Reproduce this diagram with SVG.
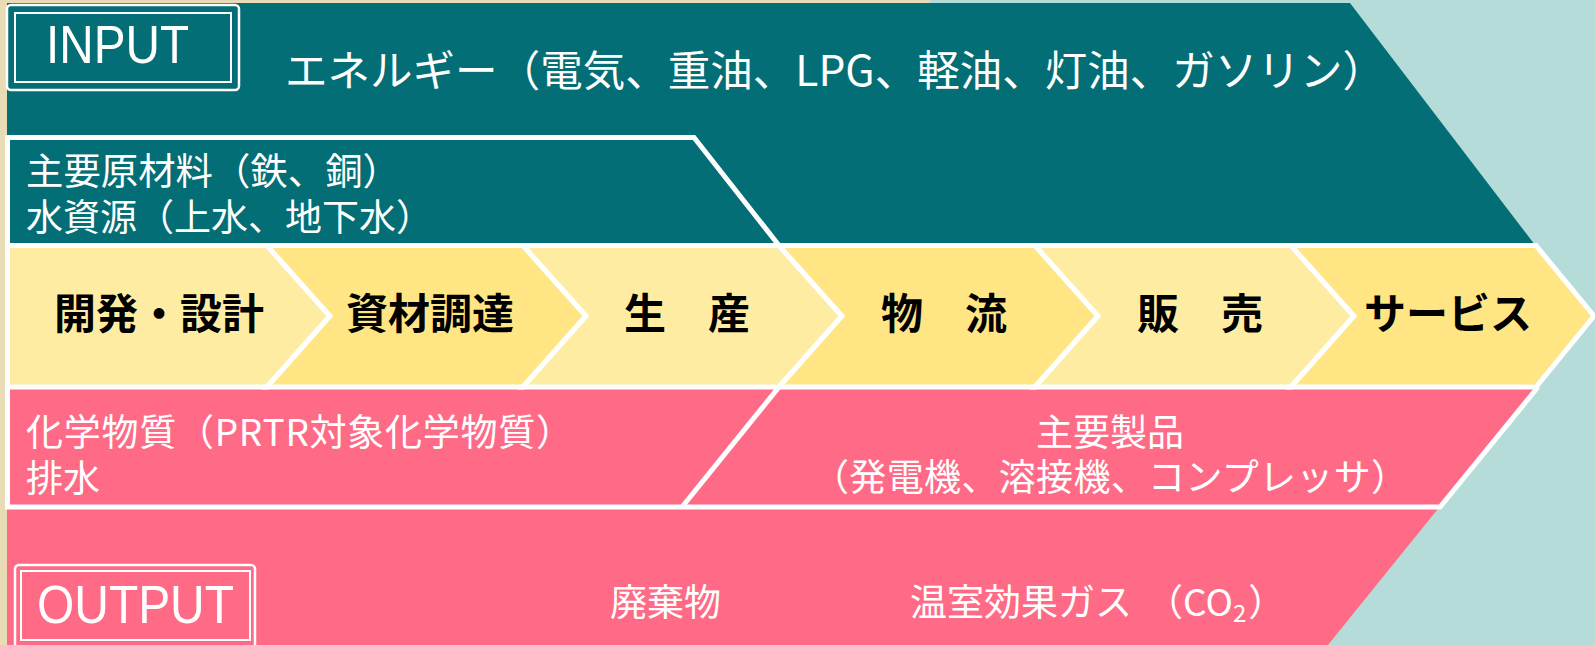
<svg xmlns="http://www.w3.org/2000/svg" width="1595" height="645" viewBox="0 0 1595 645">
<style>
.jp{font-family:"Noto Sans CJK JP","Noto Sans CJK SC",sans-serif;fill:#fff}
.lbl{font-family:"Noto Sans CJK JP","Noto Sans CJK SC",sans-serif;font-weight:700;font-size:42px;fill:#000;text-anchor:middle}
.edge{fill:none;stroke:#fff;stroke-width:5;stroke-linejoin:miter}
.chev{stroke:#fff;stroke-width:5;stroke-linejoin:miter}
.c1{fill:#FFECA3}
.c2{fill:#FFE584}
.box{fill:none;stroke:#fff}
.en{font-family:"Liberation Sans",Arial,sans-serif;font-size:53px;fill:#fff}
</style>
<g id="background">
<rect width="1595" height="645" fill="#E8DCB6"/>
<rect x="930" width="665" height="645" fill="#B5DCD8"/>
</g>
<g id="input">
<polygon points="7,3 1350,3 1535,245 7,245" fill="#036E75"/>
<rect x="7" y="5" width="232" height="85" rx="4" class="box" stroke-width="2.5"/>
<rect x="15" y="13" width="216" height="69" class="box" stroke-width="2"/>
<text x="46" y="63" class="en" textLength="143" lengthAdjust="spacingAndGlyphs">INPUT</text>
<text x="285" y="86" class="jp" font-size="42.5" textLength="1100" lengthAdjust="spacing">エネルギー（電気、重油、LPG、軽油、灯油、ガソリン）</text>
</g>
<g id="raw-materials">
<path class="edge" d="M7.5,245.5 V137.5 H694 L779,245.5"/>
<text x="26" y="185" class="jp" font-size="37.4">主要原材料（鉄、銅）</text>
<text x="26" y="231" class="jp" font-size="37">水資源（上水、地下水）</text>
</g>
<g id="output">
<polygon points="7,385 1538,385 1328,645 7,645" fill="#FF6B86"/>
<rect x="15" y="565" width="240" height="85" rx="4" class="box" stroke-width="2.5"/>
<rect x="21" y="571" width="229" height="69" class="box" stroke-width="2"/>
<text x="37" y="623" class="en" textLength="197" lengthAdjust="spacingAndGlyphs">OUTPUT</text>
<text x="610" y="616" class="jp" font-size="37">廃棄物</text>
<text x="910" y="616" class="jp" font-size="37">温室効果ガス<tspan dx="14">（CO</tspan><tspan font-size="24" dy="6">2</tspan><tspan dy="-6" dx="2">）</tspan></text>
</g>
<g id="chevrons">
<g id="step-design"><polygon class="chev c1" points="7.5,245.5 267,245.5 330,316 267,387 7.5,387"/><text x="159" y="329" class="lbl">開発・設計</text></g>
<g id="step-procurement"><polygon class="chev c2" points="267,245.5 523,245.5 586,316 523,387 267,387 330,316"/><text x="430" y="329" class="lbl">資材調達</text></g>
<g id="step-production"><polygon class="chev c1" points="523,245.5 779,245.5 842,316 779,387 523,387 586,316"/><text x="687" y="329" class="lbl">生　産</text></g>
<g id="step-logistics"><polygon class="chev c2" points="779,245.5 1035,245.5 1098,316 1035,387 779,387 842,316"/><text x="944" y="329" class="lbl">物　流</text></g>
<g id="step-sales"><polygon class="chev c1" points="1035,245.5 1291,245.5 1354,316 1291,387 1035,387 1098,316"/><text x="1200" y="329" class="lbl">販　売</text></g>
<g id="step-service"><polygon class="chev c2" points="1291,245.5 1536,245.5 1594,316 1536,387 1291,387 1354,316"/><text x="1448" y="329" class="lbl">サービス</text></g>
</g>
<g id="emissions-products">
<path class="edge" d="M1538,387 L1440,507 H7.5 V387"/>
<path class="edge" d="M779,387 L682,507"/>
<text x="26" y="446" class="jp" font-size="37" textLength="547" lengthAdjust="spacing">化学物質（PRTR対象化学物質）</text>
<text x="26" y="492" class="jp" font-size="37">排水</text>
<text x="1036" y="446" class="jp" font-size="37">主要製品</text>
<text x="812" y="491" class="jp" font-size="37" textLength="596" lengthAdjust="spacing">（発電機、溶接機、コンプレッサ）</text>
</g>
<g id="connectors"/>
</svg>
